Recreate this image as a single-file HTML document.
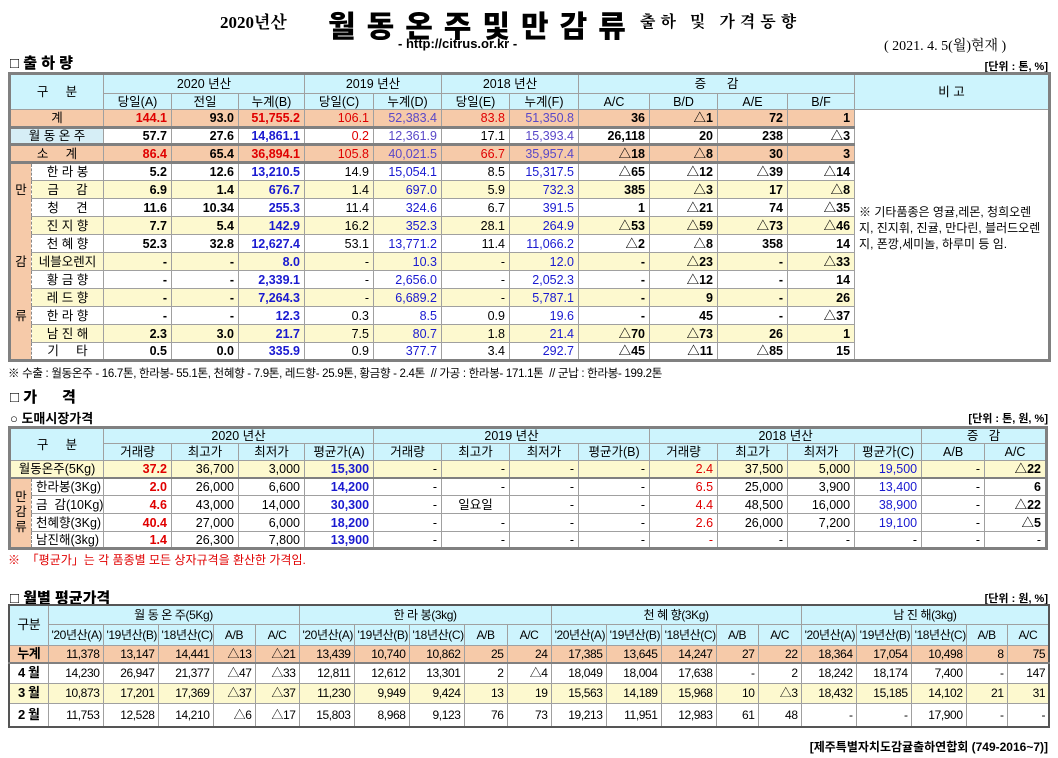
<!DOCTYPE html>
<html><head><meta charset="utf-8">
<style>
*{margin:0;padding:0;box-sizing:border-box}
body{width:1058px;height:758px;background:#fff;position:relative;overflow:hidden;font-family:"Liberation Sans","Noto Sans CJK KR",sans-serif;color:#000}
.a{position:absolute;white-space:nowrap}
table{position:absolute;border-collapse:collapse;table-layout:fixed;left:8px;width:1040px;border:3px solid #808080}
td{border:1px solid #a0a0a0;padding:0 4px;font-size:12.5px;line-height:14px;text-align:right;white-space:nowrap;overflow:hidden}
.h td{background:#cdf4fd;text-align:center;font-weight:normal}
.c{text-align:center!important}
.s td{background:#f6caa9}
.y td{background:#fdf9cf}
.b{font-weight:bold}
.r{color:#e00000}
.u{color:#1a1ad0}
.p{color:#5a48c8}
.side{background:#f6caa9!important;text-align:center;border-right:1px dashed #888}
.nm{text-align:center;border-left:1px dashed #888}
.t3 td{font-size:12px;letter-spacing:-0.4px;padding:0 3px}
</style></head><body>
<div class="a" style="left:220px;top:8px;font-size:17px;font-weight:bold;font-family:'Liberation Serif','Noto Serif CJK SC',serif">2020년산</div>
<div class="a" style="left:328px;top:2px;font-size:30px;font-weight:900;letter-spacing:11px">월동온주및만감류</div>
<div class="a" style="left:640px;top:9px;font-size:16px;font-weight:bold;letter-spacing:5px;font-family:'Liberation Serif','Noto Serif CJK SC',serif">출하 및 가격동향</div>
<div class="a" style="left:398px;top:36px;font-size:13px;font-weight:bold">- http://citrus.or.kr -</div>
<div class="a" style="left:884px;top:35px;font-size:14px;font-family:'Liberation Serif','Noto Serif CJK SC',serif">( 2021. 4. 5(월)현재 )</div>
<div class="a" style="left:10px;top:52px;font-size:15px;font-weight:900">□ 출 하 량</div>
<div class="a" style="right:10px;top:58px;font-size:11px;font-weight:bold">[단위 : 톤, %]</div>

<table style="top:72px">
<colgroup><col style="width:22px"><col style="width:72px"><col style="width:68px"><col style="width:67px"><col style="width:66px"><col style="width:69px"><col style="width:68px"><col style="width:68px"><col style="width:69px"><col style="width:71px"><col style="width:68px"><col style="width:70px"><col style="width:67px"><col style="width:195px"></colgroup>
<tr class="h" style="height:20px"><td colspan="2" rowspan="2">구&nbsp;&nbsp;&nbsp;&nbsp;&nbsp;분</td><td colspan="3">2020 년산</td><td colspan="2">2019 년산</td><td colspan="2">2018 년산</td><td colspan="4">증&nbsp;&nbsp;&nbsp;&nbsp;&nbsp;&nbsp;감</td><td rowspan="2">비 고</td></tr>
<tr class="h" style="height:16px"><td>당일(A)</td><td>전일</td><td>누계(B)</td><td>당일(C)</td><td>누계(D)</td><td>당일(E)</td><td>누계(F)</td><td>A/C</td><td>B/D</td><td>A/E</td><td>B/F</td></tr>
<tr class="s" style="height:18px;border-bottom:3px solid #808080"><td colspan="2" class="c">계</td><td class="b r">144.1</td><td class="b">93.0</td><td class="b r">51,755.2</td><td class="r">106.1</td><td class="p">52,383.4</td><td class="r">83.8</td><td class="p">51,350.8</td><td class="b">36</td><td class="b">△1</td><td class="b">72</td><td class="b">1</td><td rowspan="14" style="background:#fff;text-align:left;white-space:normal;font-size:12px;line-height:16px;vertical-align:middle;padding:0 4px 14px">※ 기타품종은 영귤,레몬, 청희오렌지, 진지휘, 진귤, 만다린, 블러드오렌지, 폰깡,세미놀, 하루미 등 임.</td></tr>
<tr style="height:17px;border-bottom:3px solid #808080"><td colspan="2" class="c" style="background:#d6eef6">월 동 온 주</td><td class="b">57.7</td><td class="b">27.6</td><td class="b u">14,861.1</td><td class="r">0.2</td><td class="p">12,361.9</td><td>17.1</td><td class="p">15,393.4</td><td class="b">26,118</td><td class="b">20</td><td class="b">238</td><td class="b">△3</td></tr>
<tr class="s" style="height:18px;border-bottom:3px solid #808080"><td colspan="2" class="c">소&nbsp;&nbsp;&nbsp;&nbsp;&nbsp;계</td><td class="b r">86.4</td><td class="b">65.4</td><td class="b r">36,894.1</td><td class="r">105.8</td><td class="p">40,021.5</td><td class="r">66.7</td><td class="p">35,957.4</td><td class="b">△18</td><td class="b">△8</td><td class="b">30</td><td class="b">3</td></tr>
<tr style="height:18px"><td rowspan="11" class="side" style="line-height:18px">만<br><br><br><br>감<br><br><br>류<br><br></td><td class="nm">한 라 봉</td><td class="b">5.2</td><td class="b">12.6</td><td class="b u">13,210.5</td><td>14.9</td><td class="u">15,054.1</td><td>8.5</td><td class="u">15,317.5</td><td class="b">△65</td><td class="b">△12</td><td class="b">△39</td><td class="b">△14</td></tr>
<tr class="y" style="height:18px"><td class="nm">금&nbsp;&nbsp;&nbsp;&nbsp;&nbsp;감</td><td class="b">6.9</td><td class="b">1.4</td><td class="b u">676.7</td><td>1.4</td><td class="u">697.0</td><td>5.9</td><td class="u">732.3</td><td class="b">385</td><td class="b">△3</td><td class="b">17</td><td class="b">△8</td></tr>
<tr style="height:18px"><td class="nm">청&nbsp;&nbsp;&nbsp;&nbsp;&nbsp;견</td><td class="b">11.6</td><td class="b">10.34</td><td class="b u">255.3</td><td>11.4</td><td class="u">324.6</td><td>6.7</td><td class="u">391.5</td><td class="b">1</td><td class="b">△21</td><td class="b">74</td><td class="b">△35</td></tr>
<tr class="y" style="height:18px"><td class="nm">진 지 향</td><td class="b">7.7</td><td class="b">5.4</td><td class="b u">142.9</td><td>16.2</td><td class="u">352.3</td><td>28.1</td><td class="u">264.9</td><td class="b">△53</td><td class="b">△59</td><td class="b">△73</td><td class="b">△46</td></tr>
<tr style="height:18px"><td class="nm">천 혜 향</td><td class="b">52.3</td><td class="b">32.8</td><td class="b u">12,627.4</td><td>53.1</td><td class="u">13,771.2</td><td>11.4</td><td class="u">11,066.2</td><td class="b">△2</td><td class="b">△8</td><td class="b">358</td><td class="b">14</td></tr>
<tr class="y" style="height:18px"><td class="nm">네블오렌지</td><td class="b">-</td><td class="b">-</td><td class="b u">8.0</td><td>-</td><td class="u">10.3</td><td>-</td><td class="u">12.0</td><td class="b">-</td><td class="b">△23</td><td class="b">-</td><td class="b">△33</td></tr>
<tr style="height:18px"><td class="nm">황 금 향</td><td class="b">-</td><td class="b">-</td><td class="b u">2,339.1</td><td>-</td><td class="u">2,656.0</td><td>-</td><td class="u">2,052.3</td><td class="b">-</td><td class="b">△12</td><td class="b">-</td><td class="b">14</td></tr>
<tr class="y" style="height:18px"><td class="nm">레 드 향</td><td class="b">-</td><td class="b">-</td><td class="b u">7,264.3</td><td>-</td><td class="u">6,689.2</td><td>-</td><td class="u">5,787.1</td><td class="b">-</td><td class="b">9</td><td class="b">-</td><td class="b">26</td></tr>
<tr style="height:18px"><td class="nm">한 라 향</td><td class="b">-</td><td class="b">-</td><td class="b u">12.3</td><td>0.3</td><td class="u">8.5</td><td>0.9</td><td class="u">19.6</td><td class="b">-</td><td class="b">45</td><td class="b">-</td><td class="b">△37</td></tr>
<tr class="y" style="height:18px"><td class="nm">남 진 해</td><td class="b">2.3</td><td class="b">3.0</td><td class="b u">21.7</td><td>7.5</td><td class="u">80.7</td><td>1.8</td><td class="u">21.4</td><td class="b">△70</td><td class="b">△73</td><td class="b">26</td><td class="b">1</td></tr>
<tr style="height:18px"><td class="nm">기&nbsp;&nbsp;&nbsp;&nbsp;&nbsp;타</td><td class="b">0.5</td><td class="b">0.0</td><td class="b u">335.9</td><td>0.9</td><td class="u">377.7</td><td>3.4</td><td class="u">292.7</td><td class="b">△45</td><td class="b">△11</td><td class="b">△85</td><td class="b">15</td></tr>
</table>

<div class="a" style="left:8px;top:365px;font-size:11.5px;letter-spacing:-0.3px">※ 수출 : 월동온주 - 16.7톤, 한라봉- 55.1톤, 천혜향 - 7.9톤, 레드향- 25.9톤, 황금향 - 2.4톤&nbsp;&nbsp;// 가공 : 한라봉- 171.1톤&nbsp;&nbsp;// 군납 : 한라봉- 199.2톤</div>
<div class="a" style="left:10px;top:386px;font-size:15px;font-weight:900">□ 가&nbsp;&nbsp;&nbsp;&nbsp;&nbsp;&nbsp;격</div>
<div class="a" style="left:10px;top:408px;font-size:13px;font-weight:bold">○ 도매시장가격</div>
<div class="a" style="right:10px;top:410px;font-size:11px;font-weight:bold">[단위 : 톤, 원, %]</div>

<table style="top:426px">
<colgroup><col style="width:22px"><col style="width:72px"><col style="width:68px"><col style="width:67px"><col style="width:66px"><col style="width:69px"><col style="width:68px"><col style="width:68px"><col style="width:69px"><col style="width:71px"><col style="width:68px"><col style="width:70px"><col style="width:67px"><col style="width:67px"><col style="width:63px"></colgroup>
<tr class="h" style="height:16px"><td colspan="2" rowspan="2">구&nbsp;&nbsp;&nbsp;&nbsp;&nbsp;분</td><td colspan="4">2020 년산</td><td colspan="4">2019 년산</td><td colspan="4">2018 년산</td><td colspan="2">증&nbsp;&nbsp;&nbsp;감</td></tr>
<tr class="h" style="height:17px"><td>거래량</td><td>최고가</td><td>최저가</td><td>평균가(A)</td><td>거래량</td><td>최고가</td><td>최저가</td><td>평균가(B)</td><td>거래량</td><td>최고가</td><td>최저가</td><td>평균가(C)</td><td>A/B</td><td>A/C</td></tr>
<tr class="y" style="height:17px;border-bottom:2px solid #808080"><td colspan="2" class="c">월동온주(5Kg)</td><td class="b r">37.2</td><td>36,700</td><td>3,000</td><td class="b u">15,300</td><td>-</td><td>-</td><td>-</td><td>-</td><td class="r">2.4</td><td>37,500</td><td>5,000</td><td class="u">19,500</td><td>-</td><td class="b">△22</td></tr>
<tr style="height:18px"><td rowspan="4" class="side" style="line-height:15px">만<br>감<br>류</td><td class="nm" style="text-align:left">한라봉(3Kg)</td><td class="b r">2.0</td><td>26,000</td><td>6,600</td><td class="b u">14,200</td><td>-</td><td>-</td><td>-</td><td>-</td><td class="r">6.5</td><td>25,000</td><td>3,900</td><td class="u">13,400</td><td>-</td><td class="b">6</td></tr>
<tr style="height:18px"><td class="nm" style="text-align:left">금&nbsp;&nbsp;감(10Kg)</td><td class="b r">4.6</td><td>43,000</td><td>14,000</td><td class="b u">30,300</td><td>-</td><td class="c">일요일</td><td>-</td><td>-</td><td class="r">4.4</td><td>48,500</td><td>16,000</td><td class="u">38,900</td><td>-</td><td class="b">△22</td></tr>
<tr style="height:18px"><td class="nm" style="text-align:left">천혜향(3Kg)</td><td class="b r">40.4</td><td>27,000</td><td>6,000</td><td class="b u">18,200</td><td>-</td><td>-</td><td>-</td><td>-</td><td class="r">2.6</td><td>26,000</td><td>7,200</td><td class="u">19,100</td><td>-</td><td class="b">△5</td></tr>
<tr style="height:17px"><td class="nm" style="text-align:left">남진해(3kg)</td><td class="b r">1.4</td><td>26,300</td><td>7,800</td><td class="b u">13,900</td><td>-</td><td>-</td><td>-</td><td>-</td><td class="r">-</td><td>-</td><td>-</td><td>-</td><td>-</td><td>-</td></tr>
</table>
<div class="a" style="left:8px;top:551px;font-size:12px;color:#e00000">※&nbsp;&nbsp;「평균가」는 각 품종별 모든 상자규격을 환산한 가격임.</div>

<div class="a" style="left:10px;top:587px;font-size:15px;font-weight:900">□ 월별 평균가격</div>
<div class="a" style="right:10px;top:590px;font-size:11px;font-weight:bold">[단위 : 원, %]</div>

<table class="t3" style="top:604px;border:2px solid #555">
<colgroup><col style="width:39px"><col style="width:55px"><col style="width:55px"><col style="width:55px"><col style="width:42px"><col style="width:44px"><col style="width:55px"><col style="width:55px"><col style="width:55px"><col style="width:43px"><col style="width:44px"><col style="width:55px"><col style="width:55px"><col style="width:55px"><col style="width:42px"><col style="width:43px"><col style="width:55px"><col style="width:55px"><col style="width:55px"><col style="width:41px"><col style="width:42px"></colgroup>
<tr class="h" style="height:19px"><td rowspan="2" style="font-size:13px">구분</td><td colspan="5">월 동 온 주(5Kg)</td><td colspan="5">한 라 봉(3kg)</td><td colspan="5">천 혜 향(3Kg)</td><td colspan="5">남 진 해(3kg)</td></tr>
<tr class="h" style="height:21px"><td>'20년산(A)</td><td>'19년산(B)</td><td>'18년산(C)</td><td>A/B</td><td>A/C</td><td>'20년산(A)</td><td>'19년산(B)</td><td>'18년산(C)</td><td>A/B</td><td>A/C</td><td>'20년산(A)</td><td>'19년산(B)</td><td>'18년산(C)</td><td>A/B</td><td>A/C</td><td>'20년산(A)</td><td>'19년산(B)</td><td>'18년산(C)</td><td>A/B</td><td>A/C</td></tr>
<tr class="s" style="height:18px;border-bottom:2px solid #808080"><td class="c b" style="font-size:13px">누계</td><td>11,378</td><td>13,147</td><td>14,441</td><td>△13</td><td>△21</td><td>13,439</td><td>10,740</td><td>10,862</td><td>25</td><td>24</td><td>17,385</td><td>13,645</td><td>14,247</td><td>27</td><td>22</td><td>18,364</td><td>17,054</td><td>10,498</td><td>8</td><td>75</td></tr>
<tr style="height:20px"><td class="c b" style="font-size:13px">4 월</td><td>14,230</td><td>26,947</td><td>21,377</td><td>△47</td><td>△33</td><td>12,811</td><td>12,612</td><td>13,301</td><td>2</td><td>△4</td><td>18,049</td><td>18,004</td><td>17,638</td><td>-</td><td>2</td><td>18,242</td><td>18,174</td><td>7,400</td><td>-</td><td>147</td></tr>
<tr class="y" style="height:20px"><td class="c b" style="font-size:13px">3 월</td><td>10,873</td><td>17,201</td><td>17,369</td><td>△37</td><td>△37</td><td>11,230</td><td>9,949</td><td>9,424</td><td>13</td><td>19</td><td>15,563</td><td>14,189</td><td>15,968</td><td>10</td><td>△3</td><td>18,432</td><td>15,185</td><td>14,102</td><td>21</td><td>31</td></tr>
<tr style="height:24px"><td class="c b" style="font-size:13px">2 월</td><td>11,753</td><td>12,528</td><td>14,210</td><td>△6</td><td>△17</td><td>15,803</td><td>8,968</td><td>9,123</td><td>76</td><td>73</td><td>19,213</td><td>11,951</td><td>12,983</td><td>61</td><td>48</td><td>-</td><td>-</td><td>17,900</td><td>-</td><td>-</td></tr>
</table>
<div class="a" style="right:10px;top:738px;font-size:12px;font-weight:bold">[제주특별자치도감귤출하연합회 (749-2016~7)]</div>
</body></html>
